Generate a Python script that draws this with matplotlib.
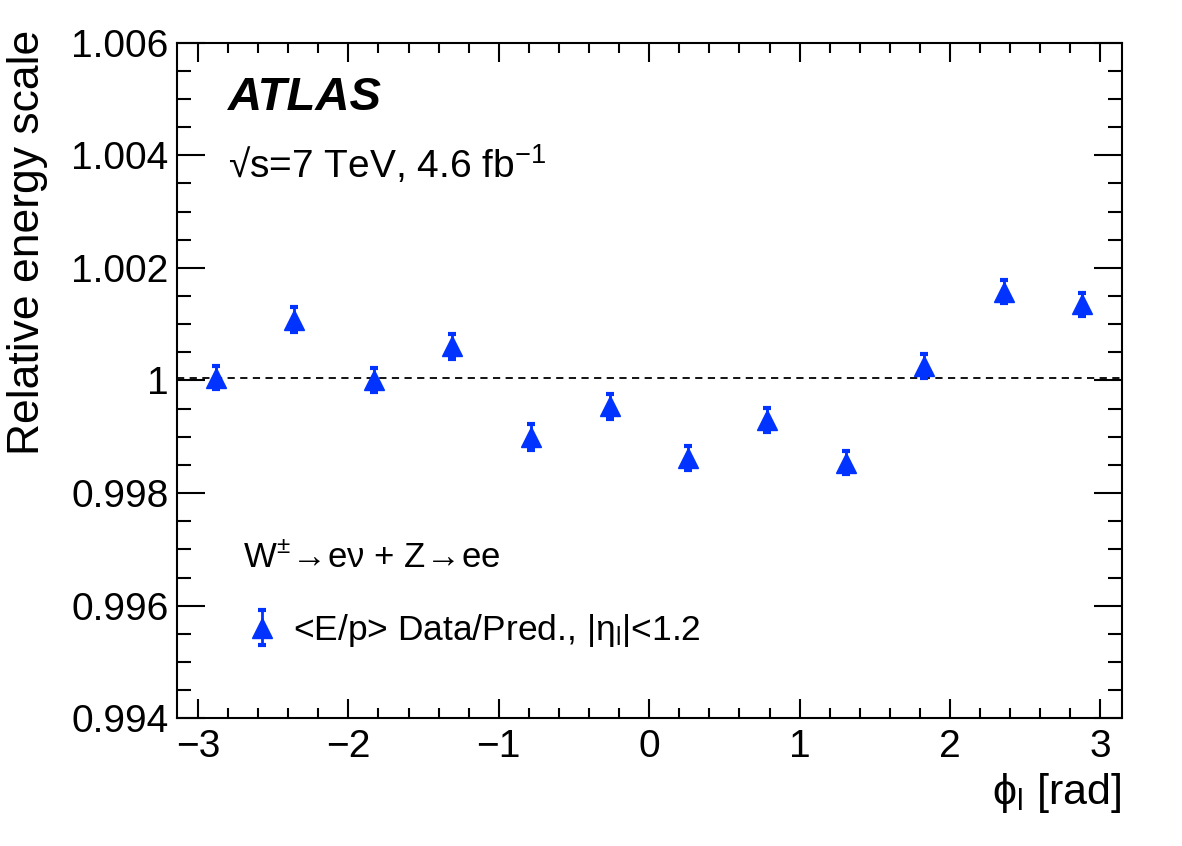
import numpy as np
import matplotlib
matplotlib.use('Agg')
import matplotlib.pyplot as plt
from matplotlib.ticker import MultipleLocator, FuncFormatter

plt.rcParams['font.family'] = ['Liberation Sans', 'DejaVu Sans']
plt.rcParams['mathtext.fontset'] = 'custom'
plt.rcParams['mathtext.rm'] = 'Liberation Sans'
plt.rcParams['mathtext.it'] = 'Liberation Sans:italic'
plt.rcParams['mathtext.bf'] = 'Liberation Sans:bold'

# phi bins centres (12 bins over [-pi, pi])
phi = [-2.88, -2.36, -1.83, -1.31, -0.785, -0.26, 0.26, 0.785, 1.31, 1.83, 2.36, 2.88]
scale = [1.00005, 1.00108, 1.00001, 1.00061, 0.99899, 0.99954,
         0.99862, 0.99930, 0.99854, 1.00026, 1.00158, 1.00135]
err = [0.00021, 0.00022, 0.00022, 0.00022, 0.00023, 0.00022,
       0.00021, 0.00022, 0.00021, 0.00021, 0.00021, 0.00021]

blue = '#0033ff'

fig = plt.figure(figsize=(11.82, 8.46), dpi=100)
ax = fig.add_axes([0.1495, 0.151, 0.7995, 0.7985])

ax.axhline(1.00005, color='black', lw=1.3, ls=(0, (4, 3)), zorder=1)

ax.errorbar(phi, scale, yerr=err, fmt='^', color=blue, ms=15, mec=blue,
            elinewidth=2, capsize=3, capthick=3, zorder=3,
            label='<E/p> Data/Pred., |η$_\\mathrm{l}$|<1.2')

ax.set_xlim(-np.pi, np.pi)
ax.set_ylim(0.994, 1.006)

ax.xaxis.set_major_locator(MultipleLocator(1))
ax.xaxis.set_minor_locator(MultipleLocator(0.2))
ax.yaxis.set_major_locator(MultipleLocator(0.002))
ax.yaxis.set_minor_locator(MultipleLocator(0.0005))

def yfmt(v, pos):
    if abs(v - 1) < 1e-9:
        return '1'
    return '%.3f' % v

ax.yaxis.set_major_formatter(FuncFormatter(yfmt))
ax.xaxis.set_major_formatter(FuncFormatter(lambda v, p: ('%d' % round(v)).replace('-', '\u2212')))

ax.tick_params(axis='both', which='both', direction='in', top=True, right=True,
               labelsize=28, width=1.5)
ax.tick_params(axis='x', which='major', length=14, pad=8)
ax.tick_params(axis='x', which='minor', length=7)
ax.tick_params(axis='y', which='major', length=20, pad=6)
ax.tick_params(axis='y', which='minor', length=10)
for sp in ax.spines.values():
    sp.set_linewidth(1.5)

ax.set_ylabel('Relative energy scale', fontsize=32, ha='right', va='top',
              rotation_mode='anchor')
ax.yaxis.set_label_coords(-0.18, 1.019)
ax.set_xlabel('ϕ$_\\mathrm{l}$ [rad]', fontsize=31, loc='right', labelpad=4)

ax.text(0.054, 0.90, 'ATLAS', transform=ax.transAxes, fontsize=34,
        fontweight='bold', fontstyle='italic')
ax.text(0.054, 0.80, '√s=7 TeV, 4.6 fb$^{-1}$', transform=ax.transAxes,
        fontsize=28)
ax.text(0.070, 0.224, 'W$^{\\pm}\\!\\rightarrow\\!$eν + Z$\\!\\rightarrow\\!$ee',
        transform=ax.transAxes, fontsize=25)

leg = ax.legend(loc='center left', bbox_to_anchor=(0.0793, 0.13), frameon=False,
                fontsize=25.5, handlelength=0.6, handletextpad=0.56, borderpad=0,
                borderaxespad=0)

fig.savefig('out.png', dpi=100)
